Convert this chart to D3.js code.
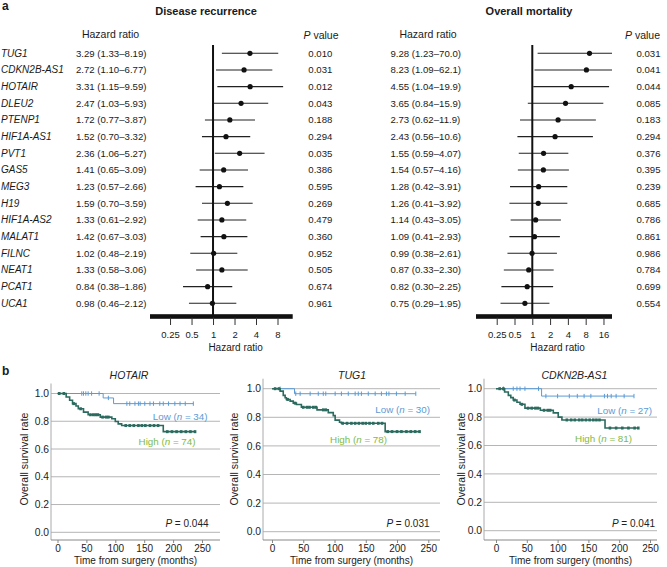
<!DOCTYPE html>
<html>
<head>
<meta charset="utf-8">
<script src="https://cdn.jsdelivr.net/npm/d3@7"></script>
<style>
  body { margin: 0; background: #fff; }
  svg { display: block; font-family: "Liberation Sans", Arial, sans-serif; }
</style>
</head>
<body>
<svg id="fig" width="667" height="567"></svg>
<script>
// ---- panel a data ----
const genes = ["TUG1", "CDKN2B-AS1", "HOTAIR", "DLEU2", "PTENP1", "HIF1A-AS1", "PVT1", "GAS5",
  "MEG3", "H19", "HIF1A-AS2", "MALAT1", "FILNC", "NEAT1", "PCAT1", "UCA1"];
const recurHR = [3.29, 2.72, 3.31, 2.47, 1.72, 1.52, 2.36, 1.41, 1.23, 1.59, 1.33, 1.42, 1.02, 1.33, 0.84, 0.98];
const recurLo = [1.33, 1.10, 1.15, 1.03, 0.77, 0.70, 1.06, 0.65, 0.57, 0.70, 0.61, 0.67, 0.48, 0.58, 0.38, 0.46];
const recurHi = [8.19, 6.77, 9.59, 5.93, 3.87, 3.32, 5.27, 3.09, 2.66, 3.59, 2.92, 3.03, 2.19, 3.06, 1.86, 2.12];
const recurP = [0.010, 0.031, 0.012, 0.043, 0.188, 0.294, 0.035, 0.386, 0.595, 0.269, 0.479, 0.360, 0.952, 0.505, 0.674, 0.961];
const mortHR = [9.28, 8.23, 4.55, 3.65, 2.73, 2.43, 1.55, 1.54, 1.28, 1.26, 1.14, 1.09, 0.99, 0.87, 0.82, 0.75];
const mortLo = [1.23, 1.09, 1.04, 0.84, 0.62, 0.56, 0.59, 0.57, 0.42, 0.41, 0.43, 0.41, 0.38, 0.33, 0.30, 0.29];
const mortHi = [70.0, 62.1, 19.9, 15.9, 11.9, 10.6, 4.07, 4.16, 3.91, 3.92, 3.05, 2.93, 2.61, 2.30, 2.25, 1.95];
const mortP = [0.031, 0.041, 0.044, 0.085, 0.183, 0.294, 0.376, 0.395, 0.239, 0.685, 0.786, 0.861, 0.986, 0.784, 0.699, 0.554];
const recurTicks = [0.25, 0.5, 1, 2, 4, 8];
const mortTicks = [0.25, 0.5, 1, 2, 4, 8, 16];

// ---- panel b data ----
const kmGenes = ["HOTAIR", "TUG1", "CDKN2B-AS1"];
const kmP = [0.044, 0.031, 0.041];
const lowN = [34, 30, 27];
const highN = [74, 78, 81];
const kmTicksX = [0, 50, 100, 150, 200, 250];
const kmTicksY = [0, 0.2, 0.4, 0.6, 0.8, 1.0];

const hotairLowSteps = [[79, 0.968], [97, 0.927]];
const hotairLowCens = [42, 45, 49, 53, 59, 72, 88, 120, 125, 134, 140, 143, 151, 160, 166, 177, 183, 192, 203, 212, 221, 235];
const hotairHighSteps = [[15, 0.975], [21, 0.951], [26, 0.927], [32, 0.91], [36, 0.89], [45, 0.866], [53, 0.847],
  [74, 0.83], [94, 0.818], [100, 0.798], [105, 0.781], [111, 0.769], [183, 0.725]];
const hotairHighCens = [3, 11, 28, 40, 57, 62, 66, 70, 78, 84, 88, 118, 125, 132, 140, 146, 152, 160, 167, 174,
  190, 198, 206, 214, 222, 230, 238];

const tug1LowSteps = [[36, 0.965]];
const tug1LowCens = [13, 38, 45, 61, 74, 82, 86, 101, 111, 122, 133, 138, 143, 154, 165, 175, 183, 187, 199, 213, 230];
const tug1HighSteps = [[13, 0.983], [18, 0.953], [21, 0.937], [23, 0.925], [29, 0.913], [34, 0.899], [39, 0.89],
  [47, 0.87], [72, 0.852], [90, 0.833], [98, 0.812], [101, 0.78], [108, 0.765], [111, 0.758], [181, 0.70]];
const tug1HighCens = [5, 11, 25, 37, 50, 56, 60, 66, 70, 82, 86, 113, 120, 127, 133, 139, 145, 150, 156, 162,
  170, 176, 185, 192, 200, 207, 215, 222, 229, 236];

const cdknLowSteps = [[74, 0.948]];
const cdknLowCens = [12, 28, 34, 39, 47, 69, 81, 100, 119, 132, 143, 154, 176, 181, 187, 195, 208, 224];
const cdknHighSteps = [[14, 0.977], [20, 0.953], [24, 0.937], [28, 0.92], [34, 0.905], [39, 0.89], [47, 0.863],
  [72, 0.848], [93, 0.83], [101, 0.80], [107, 0.78], [177, 0.723]];
const cdknHighCens = [6, 12, 30, 42, 52, 58, 64, 68, 78, 84, 88, 115, 122, 128, 135, 140, 146, 152, 158, 163, 168,
  185, 195, 205, 215, 225, 231];

const lowSteps = [hotairLowSteps, tug1LowSteps, cdknLowSteps];
const lowCens = [hotairLowCens, tug1LowCens, cdknLowCens];
const highSteps = [hotairHighSteps, tug1HighSteps, cdknHighSteps];
const highCens = [hotairHighCens, tug1HighCens, cdknHighCens];

const ink = "#1a1a1a";
const lowColor = "#5b9bd5";
const highColor = "#2b6a5e";
const highText = "#7dbb42";

const svg = d3.select("#fig");
const fmtHR = (v) => (v >= 10 ? v.toFixed(1) : v.toFixed(2));

// panel letters + titles
svg.append("text").attr("x", 2).attr("y", 10).text("a")
  .style("font-weight", "bold").style("font-size", "12px").attr("fill", ink);
svg.append("text").attr("x", 2).attr("y", 375).text("b")
  .style("font-weight", "bold").style("font-size", "12px").attr("fill", ink);
svg.append("text").attr("x", 206).attr("y", 14.5).attr("text-anchor", "middle")
  .text("Disease recurrence").style("font-weight", "bold").style("font-size", "11px").attr("fill", ink);
svg.append("text").attr("x", 529).attr("y", 14.5).attr("text-anchor", "middle")
  .text("Overall mortality").style("font-weight", "bold").style("font-size", "11px").attr("fill", ink);

const rowY = d3.scalePoint().domain(genes).range([53.3, 303.3]);

// gene names
svg.append("g").selectAll("text").data(genes).join("text")
  .attr("x", 1).attr("y", (d) => rowY(d) + 3.5)
  .text((d) => d).style("font-style", "italic").style("font-size", "10px").attr("fill", ink);

function table({ hr, lo, hi, p, hrX, hrHeadX, pX, pHeadX }) {
  const g = svg.append("g").attr("fill", ink);
  g.append("text").attr("x", hrHeadX).attr("y", 38).attr("text-anchor", "middle")
    .text("Hazard ratio").style("font-size", "10.5px");
  const ph = g.append("text").attr("x", pHeadX).attr("y", 38.5).attr("text-anchor", "middle").style("font-size", "10.5px");
  ph.append("tspan").style("font-style", "italic").text("P");
  ph.append("tspan").text(" value");
  g.selectAll("text.hr").data(genes).join("text").attr("class", "hr")
    .attr("x", hrX).attr("y", (d) => rowY(d) + 3.5).style("font-size", "9.6px")
    .text((d, i) => `${fmtHR(hr[i])} (${fmtHR(lo[i])}–${fmtHR(hi[i])})`);
  g.selectAll("text.pv").data(genes).join("text").attr("class", "pv")
    .attr("x", pX).attr("y", (d) => rowY(d) + 3.5).style("font-size", "9.6px")
    .text((d, i) => p[i].toFixed(3));
}

function forest({ hr, lo, hi, ticks, domain, range }) {
  const x = d3.scaleLog().base(2).domain(domain).range(range).clamp(true);
  const g = svg.append("g");
  const axisY = 316.5;

  g.selectAll("line.ci").data(genes).join("line").attr("class", "ci")
    .attr("x1", (d, i) => x(lo[i])).attr("x2", (d, i) => x(hi[i]))
    .attr("y1", (d) => rowY(d)).attr("y2", (d) => rowY(d))
    .attr("stroke", "#222").attr("stroke-width", 1.1);
  g.selectAll("circle").data(genes).join("circle")
    .attr("cx", (d, i) => x(hr[i])).attr("cy", (d) => rowY(d)).attr("r", 2.6).attr("fill", "#111");

  g.append("line").attr("x1", x(1)).attr("x2", x(1)).attr("y1", 45).attr("y2", axisY)
    .attr("stroke", "#111").attr("stroke-width", 2);

  g.append("rect").attr("x", range[0]).attr("width", range[1] - range[0])
    .attr("y", axisY - 2.3).attr("height", 4.6).attr("fill", "#111");

  const ax = g.append("g").attr("transform", `translate(0,${axisY + 1})`)
    .call(d3.axisBottom(x).tickValues(ticks).tickFormat((d) => String(d)).tickSize(7.5).tickSizeOuter(0));
  ax.select(".domain").remove();
  ax.selectAll(".tick line").attr("stroke", "#333");
  ax.selectAll(".tick text").attr("y", 13.5).attr("fill", ink)
    .style("font-size", "9.5px").style("font-family", "'Liberation Sans', Arial, sans-serif");

  g.append("text").attr("x", (range[0] + range[1]) / 2 + 0.1 * (range[1] - range[0])).attr("y", 351)
    .attr("text-anchor", "middle").style("font-size", "10px").attr("fill", ink).text("Hazard ratio");
}

table({ hr: recurHR, lo: recurLo, hi: recurHi, p: recurP, hrX: 76, hrHeadX: 110.5, pX: 308.3, pHeadX: 321 });
forest({ hr: recurHR, lo: recurLo, hi: recurHi, ticks: recurTicks, domain: [0.131, 13.06], range: [150, 292.7] });
table({ hr: mortHR, lo: mortLo, hi: mortHi, p: mortP, hrX: 390.5, hrHeadX: 428, pX: 636.5, pHeadX: 642.5 });
forest({ hr: mortHR, lo: mortLo, hi: mortHi, ticks: mortTicks, domain: [0.1116, 22.3], range: [476, 612] });

// ---- panel b ----
const kmLayout = [
  { left: 51, right: 220, x0: 57.5, x250: 202, y1: 393.5, y0: 532.3, titleX: 129, yTitleX: 28,
    pX: 208.5, lowX: 207.5, lowY: 419.5, highX: 195.5, highY: 445 },
  { left: 263, right: 440, x0: 272, x250: 428.3, y1: 388.7, y0: 531.7, titleX: 352, yTitleX: 237.5,
    pX: 429.5, lowX: 430, lowY: 412.5, highX: 387, highY: 442.5 },
  { left: 484, right: 657, x0: 496, x250: 650, y1: 388.7, y0: 530.7, titleX: 574.5, yTitleX: 464.5,
    pX: 655, lowX: 652, lowY: 413.5, highX: 632, highY: 442 },
];
const kmAxisY = 540;

function survAt(steps, t) {
  let s = 1;
  for (const [tt, v] of steps) if (tt <= t) s = v;
  return s;
}

function kmPanel(i) {
  const L = kmLayout[i];
  const tx = d3.scaleLinear().domain([0, 250]).range([L.x0, L.x250]);
  const sy = d3.scaleLinear().domain([0, 1]).range([L.y0, L.y1]);
  const g = svg.append("g");

  g.selectAll("line.grid").data(kmTicksY).join("line").attr("class", "grid")
    .attr("x1", L.left).attr("x2", L.right).attr("y1", (d) => sy(d)).attr("y2", (d) => sy(d))
    .attr("stroke", "#b5b5b5").attr("stroke-width", 1);
  g.selectAll("text.yl").data(kmTicksY).join("text").attr("class", "yl")
    .attr("x", L.left - 2).attr("y", (d) => sy(d) + 3.6).attr("text-anchor", "end")
    .style("font-size", "10.3px").attr("fill", "#222").text(d3.format(".1f"));
  g.append("line").attr("x1", L.left).attr("x2", L.left).attr("y1", L.y1 - 10).attr("y2", kmAxisY)
    .attr("stroke", "#aaa");

  g.append("line").attr("x1", L.left).attr("x2", L.right).attr("y1", kmAxisY).attr("y2", kmAxisY)
    .attr("stroke", "#888");
  const ax = g.append("g").attr("transform", `translate(0,${kmAxisY})`)
    .call(d3.axisBottom(tx).tickValues(kmTicksX).tickSize(3).tickSizeOuter(0));
  ax.select(".domain").remove();
  ax.selectAll(".tick line").attr("stroke", "#888");
  ax.selectAll(".tick text").attr("y", 5).attr("fill", "#222")
    .style("font-size", "10px").style("font-family", "'Liberation Sans', Arial, sans-serif");

  g.append("text").attr("x", (L.left + L.right) / 2).attr("y", 563.5).attr("text-anchor", "middle")
    .style("font-size", "10px").attr("fill", "#222").text("Time from surgery (months)");
  g.append("text").attr("transform", `translate(${L.yTitleX},459) rotate(-90)`).attr("text-anchor", "middle")
    .style("font-size", "10.5px").attr("fill", "#222").text("Overall survival rate");
  g.append("text").attr("x", L.titleX).attr("y", 378.5).attr("text-anchor", "middle")
    .style("font-size", "10.5px").style("font-style", "italic").attr("fill", "#222").text(kmGenes[i]);

  const line = d3.line().curve(d3.curveStepAfter).x((d) => tx(d[0])).y((d) => sy(d[1]));
  const series = [
    { steps: lowSteps[i], cens: lowCens[i], color: lowColor, width: 1, mark: "tick" },
    { steps: highSteps[i], cens: highCens[i], color: highColor, width: 1.6, mark: "box" },
  ];
  series.forEach((s) => {
    const end = Math.max(d3.max(s.cens), d3.max(s.steps, (d) => d[0]));
    const pts = [[0, 1], ...s.steps, [end, s.steps[s.steps.length - 1][1]]];
    g.append("path").attr("d", line(pts)).attr("fill", "none")
      .attr("stroke", s.color).attr("stroke-width", s.width);
    if (s.mark === "tick") {
      g.selectAll(null).data(s.cens).join("line")
        .attr("x1", (t) => tx(t)).attr("x2", (t) => tx(t))
        .attr("y1", (t) => sy(survAt(s.steps, t)) - 2.2).attr("y2", (t) => sy(survAt(s.steps, t)) + 2.2)
        .attr("stroke", s.color).attr("stroke-width", 1);
    } else {
      g.selectAll(null).data(s.cens).join("rect")
        .attr("x", (t) => tx(t) - 1.3).attr("width", 2.6)
        .attr("y", (t) => sy(survAt(s.steps, t)) - 1.5).attr("height", 3)
        .attr("fill", s.color);
    }
  });

  const lowT = g.append("text").attr("x", L.lowX).attr("y", L.lowY).attr("text-anchor", "end")
    .style("font-size", "9.8px").attr("fill", lowColor);
  lowT.append("tspan").text("Low (");
  lowT.append("tspan").style("font-style", "italic").text("n");
  lowT.append("tspan").text(` = ${lowN[i]})`);
  const highT = g.append("text").attr("x", L.highX).attr("y", L.highY).attr("text-anchor", "end")
    .style("font-size", "9.8px").attr("fill", highText);
  highT.append("tspan").text("High (");
  highT.append("tspan").style("font-style", "italic").text("n");
  highT.append("tspan").text(` = ${highN[i]})`);

  const pT = g.append("text").attr("x", L.pX).attr("y", 526.5).attr("text-anchor", "end")
    .style("font-size", "10px").attr("fill", "#222");
  pT.append("tspan").style("font-style", "italic").text("P");
  pT.append("tspan").text(` = ${kmP[i].toFixed(3)}`);
}

kmGenes.forEach((d, i) => kmPanel(i));
</script>
</body>
</html>
